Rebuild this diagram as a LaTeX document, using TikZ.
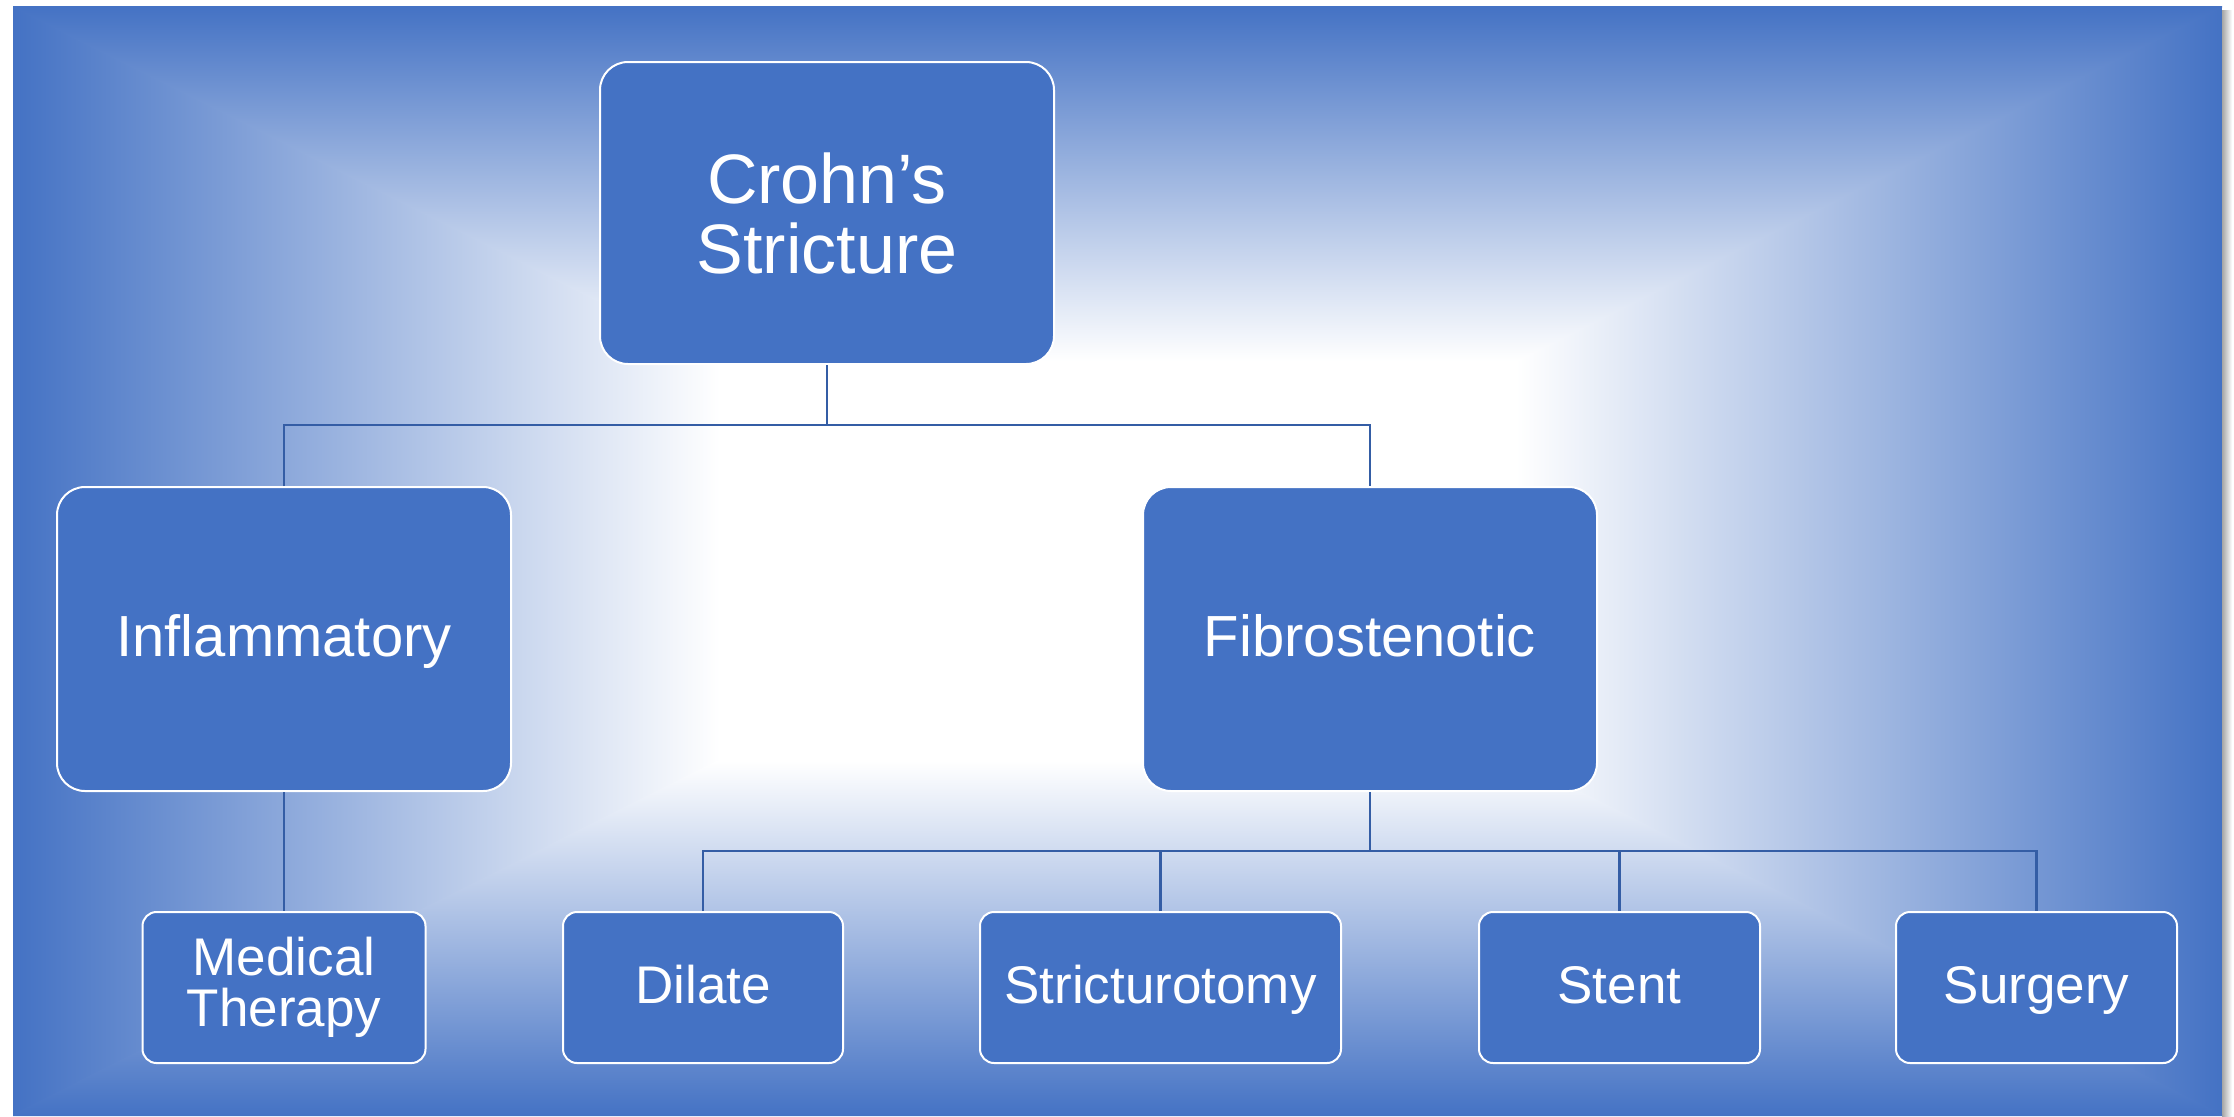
\documentclass[tikz,border=0pt]{standalone}
\usepackage{fontspec}
\setmainfont{Liberation Sans}
\definecolor{bgblue}{RGB}{68,114,196}
\definecolor{boxblue}{RGB}{68,114,196}
\definecolor{linkblue}{RGB}{52,93,165}
\tikzset{
  box/.style={draw=white, line width=1pt, fill=boxblue, text=white, align=center, inner sep=0pt},
  topbox/.style={box, rounded corners=14pt, minimum width=227pt, minimum height=151pt, font=\fontsize{35}{35}\selectfont},
  midbox/.style={box, text height=20.8pt, text depth=3pt, rounded corners=14pt, minimum width=227pt, minimum height=152pt, font=\fontsize{29}{30}\selectfont},
  leafbox/.style={box, rounded corners=7pt, minimum height=75.5pt, font=\fontsize{26.5}{25.6}\selectfont},
  leafone/.style={leafbox, text height=19pt, text depth=2.8pt},
  conn/.style={draw=linkblue, line width=1.3pt}
}
\begin{document}
\begin{tikzpicture}[x=0.5pt,y=-0.5pt]
\useasboundingbox (0,0) rectangle (2234,1116);
\fill[white] (0,0) rectangle (2234,1116);
% shadow at right edge
\shade[left color=black!35, right color=white] (2222,10) rectangle (2232,1116);
% rectangular gradient background
\begin{scope}
\clip (13,6) rectangle (2222,1116);
\shade[left color=bgblue, right color=white] (13,6) -- (720,361) -- (720,761) -- (13,1116) -- cycle;
\shade[left color=white, right color=bgblue] (2222,6) -- (1516,361) -- (1516,761) -- (2222,1116) -- cycle;
\shade[top color=bgblue, bottom color=white] (9,6) -- (2226,6) -- (1520,361) -- (716,361) -- cycle;
\shade[top color=white, bottom color=bgblue] (716,761) -- (1520,761) -- (2226,1116) -- (9,1116) -- cycle;
\end{scope}

% nodes
\node[topbox] (top) at (827,213) {Crohn’s\\Stricture};
\node[midbox] (inf) at (284,639) {Inflammatory};
\node[midbox] (fib) at (1370,639) {Fibrostenotic};
\node[leafbox, minimum width=141.5pt] (mt) at (284,987.5) {Medical\\Therapy};
\node[leafone, minimum width=140pt] (dil) at (703,987.5) {Dilate};
\node[leafone, minimum width=180.5pt] (str) at (1160.5,987.5) {Stricturotomy};
\node[leafone, minimum width=140.5pt] (ste) at (1619.5,987.5) {Stent};
\node[leafone, minimum width=140.5pt] (sur) at (2036.5,987.5) {Surgery};

% connectors
\coordinate (h1) at (0,425);
\coordinate (h2) at (0,851);
\draw[conn] (top.south) -- (top.south |- h1);
\draw[conn] (inf.north) -- (inf.north |- h1) -- (fib.north |- h1) -- (fib.north);
\draw[conn] (inf.south) -- (mt.north);
\draw[conn] (fib.south) -- (fib.south |- h2);
\draw[conn] (dil.north) -- (dil.north |- h2) -- (sur.north |- h2) -- (sur.north);
\draw[conn] (str.north) -- (str.north |- h2);
\draw[conn] (ste.north) -- (ste.north |- h2);
\end{tikzpicture}
\end{document}
